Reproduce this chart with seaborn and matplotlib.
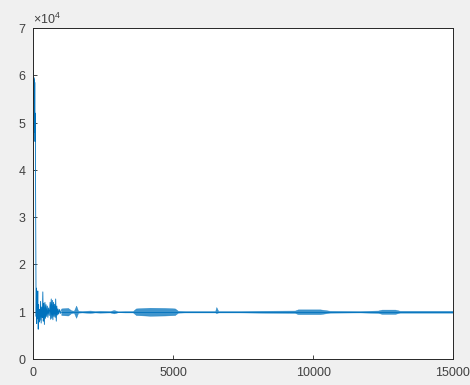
import matplotlib
matplotlib.use("Agg")
import matplotlib.pyplot as plt
import numpy as np
import pandas as pd
import seaborn as sns

# Start-up transient: sample index and value
early_x = [0, 8, 15, 22, 30, 38, 45, 52, 60, 68, 75, 85, 95, 100, 110, 120, 130,
           145, 160, 175, 190, 205, 220, 240, 260, 280, 300, 320, 340, 355, 375,
           395, 415, 435, 455, 475, 500, 520, 545, 570, 600, 620, 640, 660, 680,
           700, 720, 740, 760, 780, 800, 820, 840, 860, 880, 900, 930, 960, 1000]
early_y = [60000, 61000, 55000, 59500, 54000, 59000, 48000, 58500, 46000, 52000,
           45500, 30000, 15300, 9000, 15000, 7500, 12000, 8500, 14400, 6300, 11500,
           7800, 10500, 8200, 12200, 7600, 11000, 8800, 14200, 8000, 11800, 7300,
           12000, 8600, 11500, 9000, 11200, 8800, 10800, 9200, 12000, 8400, 12700,
           8600, 12400, 8300, 12000, 9000, 11600, 8800, 12700, 8000, 11200, 9300,
           10600, 9500, 10500, 9600, 10400]

# Settled part: oscillation envelope around the steady value
steady_x = [1000, 1240, 1350, 1450, 1530, 1600, 1740, 2030, 2200, 2380, 2740,
            2880, 3030, 3280, 3560, 3670, 4170, 4700, 5060, 5170, 5420, 6500,
            6540, 6610, 7390, 8110, 9350, 9460, 10250, 10430, 10600, 11670,
            12320, 12460, 12930, 13100, 15000]
steady_hi = [10700, 10800, 10300, 10200, 11300, 10200, 10150, 10250, 10150,
             10200, 10150, 10350, 10100, 10150, 10150, 10700, 10850, 10800,
             10700, 10200, 10150, 10150, 11000, 10150, 10150, 10200, 10250,
             10500, 10500, 10350, 10200, 10150, 10250, 10450, 10450, 10200, 10200]
steady_lo = [9300, 9200, 9700, 9800, 8700, 9800, 9850, 9750, 9850, 9800, 9850,
             9650, 9900, 9850, 9850, 9300, 9150, 9200, 9300, 9800, 9850, 9850,
             9700, 9850, 9850, 9800, 9750, 9500, 9500, 9650, 9800, 9850, 9750,
             9550, 9550, 9800, 9800]
steady_mid = [10000] * len(steady_x)

line_color = "#0072BD"
text_color = "#404040"

sns.set_theme(style="white")
plt.rcParams["font.family"] = ["Liberation Sans", "DejaVu Sans"]
plt.rcParams["mathtext.fontset"] = "custom"
plt.rcParams["mathtext.rm"] = "Liberation Sans"
plt.rcParams["mathtext.it"] = "Liberation Sans"

fig = plt.figure(figsize=(4.70, 3.85), dpi=100, facecolor="#f0f0f0")
ax = fig.add_axes([0.0709, 0.0675, 0.8929, 0.8597])
ax.set_facecolor("white")

ax.fill_between(steady_x, steady_lo, steady_hi, color=line_color,
                alpha=0.75, linewidth=0.3, edgecolor=line_color)
sns.lineplot(x=steady_x, y=steady_mid, ax=ax, color=line_color,
             linewidth=0.6, estimator=None, sort=False)
sns.lineplot(x=early_x, y=early_y, ax=ax, color=line_color,
             linewidth=0.6, estimator=None, sort=False)

ax.set_xlim(0, 15000)
ax.set_ylim(0, 70000)
ax.set_xticks([0, 5000, 10000, 15000])
ax.set_yticks(np.arange(0, 70001, 10000))
ax.ticklabel_format(axis="y", style="sci", scilimits=(0, 0), useMathText=True)
ax.yaxis.get_offset_text().set_fontsize(9)
ax.yaxis.get_offset_text().set_color(text_color)

ax.tick_params(axis="both", direction="in", length=3, width=0.6,
               color="#262626", labelsize=9, labelcolor=text_color,
               bottom=True, left=True, top=False, right=False)
ax.tick_params(axis="y", pad=5)
ax.tick_params(axis="x", pad=6)
for s in ax.spines.values():
    s.set_color("#262626")
    s.set_linewidth(0.7)

fig.savefig("out.png", dpi=100, facecolor=fig.get_facecolor())
